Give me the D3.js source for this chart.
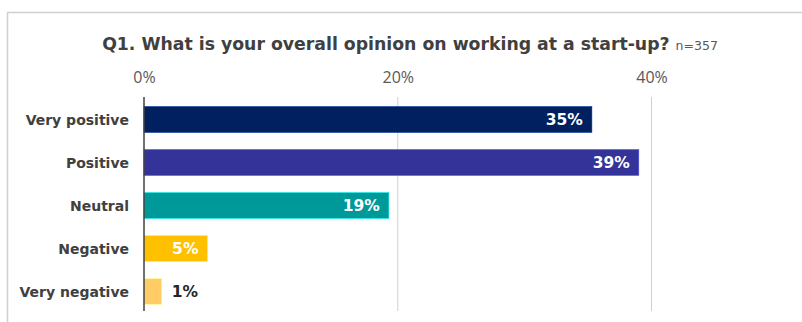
<!DOCTYPE html>
<html>
<head>
<meta charset="utf-8">
<script src="https://cdn.jsdelivr.net/npm/d3@7"></script>
<style>
  html, body { margin: 0; padding: 0; background: #fff; }
  svg { display: block; }
</style>
</head>
<body>
<svg id="chart" width="802" height="322"></svg>
<script>
// Survey answers and their shares (%)
const categories = ["Very positive", "Positive", "Neutral", "Negative", "Very negative"];
const shares = [35.3, 39.0, 19.3, 5.0, 1.4];
const shareLabels = ["35%", "39%", "19%", "5%", "1%"];
const barColors = ["#002060", "#333399", "#009999", "#FFC000", "#FFCC66"];
const tickValues = [0, 20, 40];
const tickLabels = ["0%", "20%", "40%"];

const svg = d3.select("#chart");
const font = "'DejaVu Sans', Verdana, sans-serif";
const tickFont = "'Open Sans', 'Noto Sans', sans-serif";

// frame
svg.append("rect")
  .attr("x", 7.5).attr("y", 12.5)
  .attr("width", 820).attr("height", 340)
  .attr("fill", "#fff").attr("stroke", "#d0d0d0").attr("stroke-width", 1.5);

// title
const title = svg.append("text")
  .attr("x", 410).attr("y", 50)
  .attr("text-anchor", "middle")
  .attr("font-family", font);
title.append("tspan")
  .attr("font-size", 17.3).attr("font-weight", "bold").attr("fill", "#404040")
  .text("Q1. What is your overall opinion on working at a start-up?");
title.append("tspan")
  .attr("font-size", 12.5).attr("fill", "#595959").attr("dx", 6)
  .text("n=357");

const x = d3.scaleLinear().domain([0, 40]).range([144, 651.5]);
const y = d3.scaleBand().domain(categories).range([98, 313]).paddingInner(0.4).paddingOuter(0.2);

// gridlines
svg.append("g").selectAll("line")
  .data(tickValues.filter(v => v > 0))
  .join("line")
  .attr("x1", d => x(d)).attr("x2", d => x(d))
  .attr("y1", 97).attr("y2", 311)
  .attr("stroke", "#d0d0d0").attr("stroke-width", 1);

// top axis labels
const xAxis = d3.axisTop(x).tickValues(tickValues)
  .tickFormat((d, i) => tickLabels[i]).tickSize(0).tickPadding(0);
const ax = svg.append("g").attr("transform", "translate(0,83)").call(xAxis);
ax.select(".domain").remove();
ax.selectAll("text")
  .attr("dy", 0)
  .attr("font-family", tickFont).attr("font-size", 16).attr("fill", "#595959");

// bars
const rows = categories.map((c, i) => ({ c, v: shares[i], label: shareLabels[i], color: barColors[i] }));
svg.append("g").selectAll("rect")
  .data(rows)
  .join("rect")
  .attr("x", x(0)).attr("y", d => y(d.c))
  .attr("width", d => x(d.v) - x(0))
  .attr("height", y.bandwidth())
  .attr("fill", d => d.color)
  .attr("stroke", d => d3.color(d.color).brighter(1.2))
  .attr("stroke-width", 0.6);

// value labels
svg.append("g").selectAll("text")
  .data(rows)
  .join("text")
  .attr("x", d => d.v < 3 ? x(d.v) + 10 : x(d.v) - 9)
  .attr("y", d => y(d.c) + y.bandwidth() / 2)
  .attr("dy", "0.36em")
  .attr("text-anchor", d => d.v < 3 ? "start" : "end")
  .attr("font-family", font).attr("font-size", 15.5).attr("font-weight", "bold")
  .attr("fill", d => d.v < 3 ? "#262626" : "#fff")
  .text(d => d.label);

// category labels
svg.append("g").selectAll("text")
  .data(categories)
  .join("text")
  .attr("x", 129)
  .attr("y", d => y(d) + y.bandwidth() / 2)
  .attr("dy", "0.36em")
  .attr("text-anchor", "end")
  .attr("font-family", font).attr("font-size", 14).attr("font-weight", "bold")
  .attr("fill", "#404040")
  .text(d => d);

// baseline
svg.append("line")
  .attr("x1", x(0)).attr("x2", x(0))
  .attr("y1", 97).attr("y2", 311)
  .attr("stroke", "#404040").attr("stroke-width", 1.5);
</script>
</body>
</html>
